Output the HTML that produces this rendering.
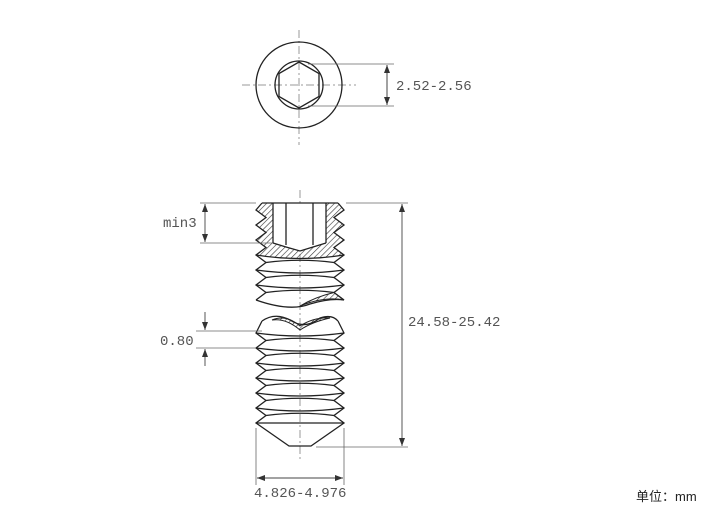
<!DOCTYPE html>
<html><head><meta charset="utf-8"><style>
html,body{margin:0;padding:0;background:#fff;width:715px;height:513px;overflow:hidden}
svg{display:block}
text{font-family:"Liberation Mono","DejaVu Sans Mono",monospace;fill:#555;font-size:14px}
</style></head><body>
<svg width="715" height="513" viewBox="0 0 715 513" xmlns="http://www.w3.org/2000/svg">
<defs>
<pattern id="h" width="4" height="4" patternUnits="userSpaceOnUse" patternTransform="rotate(45)">
<line x1="0" y1="0" x2="0" y2="4" stroke="#333" stroke-width="1.2"/></pattern>
<marker id="a" markerWidth="8" markerHeight="6" refX="8" refY="3" orient="auto" markerUnits="userSpaceOnUse"><path d="M0,0 L8,3 L0,6 Z" fill="#333"/></marker>
</defs>
<g stroke="#999" stroke-width="1" stroke-dasharray="8,3,2,3" fill="none">
<line x1="299" y1="30" x2="299" y2="145"/>
<line x1="242" y1="85" x2="356" y2="85"/>
<line x1="300" y1="190" x2="300" y2="460"/>
</g>
<g stroke="#222" fill="none" stroke-width="1.3">
<circle cx="299" cy="85" r="43"/>
<circle cx="299" cy="85" r="24"/>
<polygon points="299,62 319,73.5 319,96.5 299,108 279,96.5 279,73.5"/>
</g>
<g stroke="#666" stroke-width="0.8" fill="none">
<line x1="308" y1="64" x2="394" y2="64"/>
<line x1="308" y1="106" x2="394" y2="106"/>
</g>
<line x1="387" y1="85" x2="387" y2="65" stroke="#444" marker-end="url(#a)"/>
<line x1="387" y1="85" x2="387" y2="105" stroke="#444" marker-end="url(#a)"/>
<text x="396" y="90">2.52-2.56</text>
<path d="M262,203 L338,203 L344,210 L334,217.5 L344,225 L334,232.5 L344,240 L334,247.5 L344,255 Q300,262 256,255 L266,247.5 L256,240 L266,232.5 L256,225 L266,217.5 L256,210 Z" fill="url(#h)" stroke="none"/>
<path d="M273,203 L273,243 L300,251 L326,243 L326,203 Z" fill="#fff"/>
<path d="M300,306 Q325,296 344,300 L334,292.5 Q315,297 300,306 Z" fill="url(#h)" stroke="#222" stroke-width="1"/>
<path d="M272,320 Q286,314 300,326 Q314,317 330,318 Q312,322 300,330 Q286,318 272,320 Z" fill="url(#h)" stroke="#222" stroke-width="1"/>
<g stroke="#222" stroke-width="1.3" fill="none">
<polyline points="262,203 256,210 266,217.5 256,225 266,232.5 256,240 266,247.5 256,255 266,262.5 256,270 266,277.5 256,285 266,292.5 256,300"/>
<polyline points="338,203 344,210 334,217.5 344,225 334,232.5 344,240 334,247.5 344,255 334,262.5 344,270 334,277.5 344,285 334,292.5 344,300"/>
<line x1="262" y1="203" x2="338" y2="203"/>
<line x1="273" y1="203" x2="273" y2="243"/><line x1="326" y1="203" x2="326" y2="243"/>
<line x1="286" y1="203" x2="286" y2="245"/><line x1="313" y1="203" x2="313" y2="245"/>
<polyline points="273,243 286,247 300,251 313,247 326,243"/>
<path d="M256,255 Q300,262 344,255"/>
<path d="M266,262.5 Q300,258 334,262.5"/>
<path d="M256,270 Q300,276 344,270"/><path d="M266,277.5 Q300,273 334,277.5"/>
<path d="M256,285 Q300,291 344,285"/><path d="M266,292.5 Q300,288 334,292.5"/>
<path d="M256,300 Q290,312 310,304 Q330,298 344,300"/>
<path d="M262,321 Q275,312 290,320 Q305,330 320,318 Q332,314 338,321"/>
<polyline points="262,321 256,333 266,340.5 256,348 266,355.5 256,363 266,370.5 256,378 266,385.5 256,393 266,400.5 256,408 266,415.5 256,423 289,446 311,446 344,423 334,415.5 344,408 334,400.5 344,393 334,385.5 344,378 334,370.5 344,363 334,355.5 344,348 334,340.5 344,333 338,321"/>
<path d="M256,333 Q300,339 344,333"/><path d="M266,340.5 Q300,336 334,340.5"/>
<path d="M256,348 Q300,354 344,348"/><path d="M266,355.5 Q300,351 334,355.5"/>
<path d="M256,363 Q300,369 344,363"/><path d="M266,370.5 Q300,366 334,370.5"/>
<path d="M256,378 Q300,384 344,378"/><path d="M266,385.5 Q300,381 334,385.5"/>
<path d="M256,393 Q300,399 344,393"/><path d="M266,400.5 Q300,396 334,400.5"/>
<path d="M256,408 Q300,414 344,408"/><path d="M266,415.5 Q300,411 334,415.5"/>
<line x1="256" y1="423" x2="344" y2="423"/>
</g>
<g stroke="#666" stroke-width="0.8" fill="none">
<line x1="200" y1="203" x2="256" y2="203"/>
<line x1="200" y1="243" x2="273" y2="243"/>
<line x1="196" y1="331" x2="262" y2="331"/>
<line x1="196" y1="348" x2="256" y2="348"/>
<line x1="346" y1="203" x2="408" y2="203"/>
<line x1="316" y1="447" x2="408" y2="447"/>
<line x1="256" y1="428" x2="256" y2="485"/>
<line x1="344" y1="428" x2="344" y2="485"/>
</g>
<g stroke="#444" stroke-width="0.9">
<line x1="205" y1="223" x2="205" y2="204" marker-end="url(#a)"/>
<line x1="205" y1="223" x2="205" y2="242" marker-end="url(#a)"/>
<line x1="205" y1="312" x2="205" y2="330" marker-end="url(#a)"/>
<line x1="205" y1="366" x2="205" y2="349" marker-end="url(#a)"/>
<line x1="402" y1="320" x2="402" y2="204" marker-end="url(#a)"/>
<line x1="402" y1="320" x2="402" y2="446" marker-end="url(#a)"/>
<line x1="300" y1="478" x2="257" y2="478" marker-end="url(#a)"/>
<line x1="300" y1="478" x2="343" y2="478" marker-end="url(#a)"/>
</g>
<text x="163" y="227">min3</text>
<text x="160" y="345">0.80</text>
<text x="408" y="326">24.58-25.42</text>
<text x="254" y="497">4.826-4.976</text>
<text x="636" y="501" style='font-family:"Liberation Sans","Noto Sans CJK SC",sans-serif;font-size:13px;fill:#222'>单位：mm</text>
</svg>
</body></html>
